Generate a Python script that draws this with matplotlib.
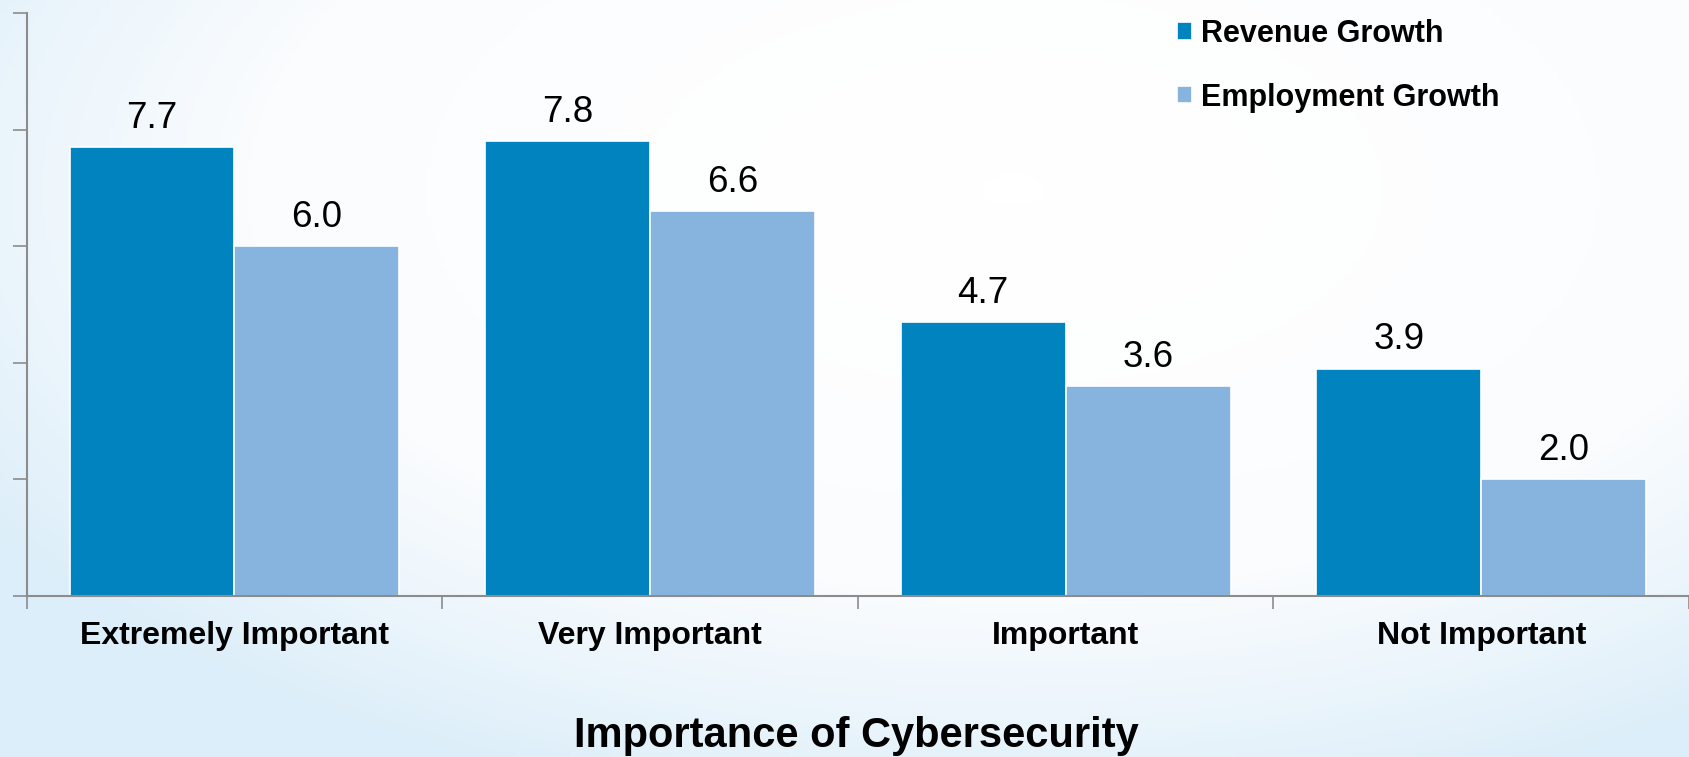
import numpy as np
import matplotlib.pyplot as plt
from matplotlib.colors import LinearSegmentedColormap

plt.rcParams['font.family'] = ['Liberation Sans', 'DejaVu Sans']

# survey results: growth by importance of cybersecurity
categories = ["Extremely Important", "Very Important", "Important", "Not Important"]
revenue_growth = [7.7, 7.8, 4.7, 3.9]
employment_growth = [6.0, 6.6, 3.6, 2.0]
series_names = ["Revenue Growth", "Employment Growth"]

DARK = "#0083BE"
LIGHT = "#86B4DF"
AXIS = "#8C8C8C"

W, H, DPI = 1689, 757, 100
fig = plt.figure(figsize=(W / DPI, H / DPI), dpi=DPI)

# soft background: white near the upper middle, pale blue toward the edges
bg = fig.add_axes([0, 0, 1, 1], zorder=-10)
yy, xx = np.mgrid[0:1:200j, 0:1:400j]
r = np.sqrt(((xx - 0.6) / 0.72) ** 2 + ((yy - 0.25) / 0.85) ** 2)
cmap = LinearSegmentedColormap.from_list("bgfade", ["#FFFFFF", "#FAFCFE", "#DCEEF9"])
bg.imshow(np.clip(r, 0, 1) ** 1.5, cmap=cmap, aspect="auto", extent=[0, 1, 1, 0],
          vmin=0, vmax=1)
bg.axis("off")

ax = fig.add_axes([26.7 / W, 1 - 596 / H, 1 - 26.7 / W, (596 - 13) / H])
ax.patch.set_alpha(0)

x = np.arange(len(categories))
bw = 0.397
b1 = ax.bar(x - bw / 2, revenue_growth, bw, color=DARK, edgecolor="white",
            linewidth=1.2, label=series_names[0])
b2 = ax.bar(x + bw / 2, employment_growth, bw, color=LIGHT, edgecolor="white",
            linewidth=1.2, label=series_names[1])

for bars, vals in ((b1, revenue_growth), (b2, employment_growth)):
    for rect, v in zip(bars, vals):
        ax.annotate(f"{v:.1f}", (rect.get_x() + rect.get_width() / 2, v),
                    xytext=(0, 14), textcoords="offset points",
                    ha="center", va="baseline", fontsize=26.5, color="black")

ax.set_xlim(-0.5, 3.5)
ax.set_ylim(0, 10)

ax.set_yticks(np.arange(0, 11, 2))
ax.set_yticklabels([])
ax.tick_params(axis="y", length=10, width=1.2, color=AXIS, direction="out")

ax.set_xticks(x)
ax.set_xticklabels(categories, fontsize=23, fontweight="bold")
ax.set_xticks(np.arange(-0.5, 4, 1), minor=True)
ax.tick_params(axis="x", which="major", length=0, pad=18)
ax.tick_params(axis="x", which="minor", length=9, width=1.2, color=AXIS)

for side in ("top", "right"):
    ax.spines[side].set_visible(False)
for side in ("left", "bottom"):
    ax.spines[side].set_color(AXIS)
    ax.spines[side].set_linewidth(1.5)

fig.text(0.5 * (574 + 1138) / W, 1 - 736 / H, "Importance of Cybersecurity",
         ha="center", va="center", fontsize=30, fontweight="bold")

leg = fig.legend(handles=[b1, b2], loc="upper left",
                 bbox_to_anchor=(1177 / W, 1 - 19 / H), frameon=False,
                 prop={"size": 22, "weight": "bold"}, handlelength=0.5,
                 handleheight=0.5, handletextpad=0.3, labelspacing=1.1,
                 borderpad=0, borderaxespad=0)

fig.savefig("out.png", dpi=DPI)
